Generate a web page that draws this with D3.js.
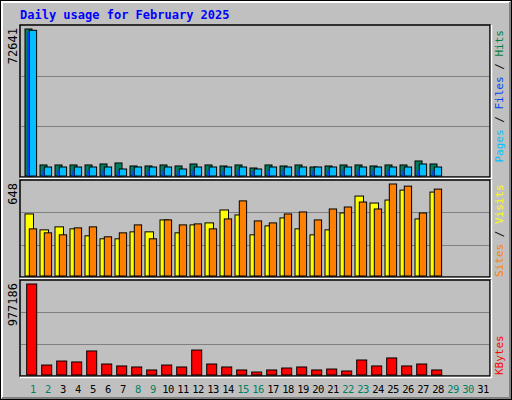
<!DOCTYPE html>
<html><head><meta charset="utf-8">
<script src="https://cdn.jsdelivr.net/npm/d3@7"></script>
<style>body{margin:0;background:#fff}svg{display:block}</style>
</head><body>
<svg id="chart" width="512" height="400"></svg>
<script>
// values, days 1..28 (29..31 empty)
const days = d3.range(1, 32);
const weekend = [1, 2, 8, 9, 15, 16, 22, 23, 29, 30];
const hits   = [72641,5450,5450,5450,5450,5940,6435,4950,4950,5450,4950,5940,5450,4950,5450,3960,5450,4950,5450,4450,4950,5450,5450,4950,5450,5450,7425,5940];
const files  = [72000,4450,4450,4450,4450,4450,3465,4450,4450,4450,3465,4450,4450,4450,4450,3465,4450,4450,4450,4450,4450,4450,4450,4450,4450,4450,5940,4450];
const pages  = [71000,2800,2800,2800,2800,2800,2500,2800,2500,2800,2500,2800,2800,2500,2800,2500,2800,2800,2800,2800,2800,2800,2800,2800,2800,2800,3000,2800];
const visits = [437,325,346,332,283,262,262,311,311,395,304,360,374,465,430,290,353,409,332,290,325,444,563,514,535,605,402,591];
const sites  = [332,304,290,339,346,276,304,360,262,395,360,367,332,402,529,388,374,437,451,395,472,486,521,472,648,633,444,612];
const kbytes = [977186,107000,150000,140000,258000,118000,97000,86000,54000,107000,86000,268000,118000,86000,54000,32000,54000,75000,86000,54000,64000,43000,161000,97000,183000,97000,118000,54000];

const svg = d3.select("#chart");
const font = "'DejaVu Sans Mono', monospace";

// frame
svg.append("rect").attr("x",0.5).attr("y",0.5).attr("width",511).attr("height",399).attr("fill","#c0c0c0").attr("stroke","#000");
svg.append("path").attr("d","M2,398 V2 H510").attr("stroke","#fff").attr("stroke-width",2).attr("fill","none");
svg.append("path").attr("d","M2,398 H510 V2").attr("stroke","#808080").attr("stroke-width",2).attr("fill","none");

svg.append("text").attr("x",20).attr("y",19).attr("fill","#0000ff")
  .style("font","bold 12px " + font).text("Daily usage for February 2025");

const x = d3.scaleBand().domain(days).range([25, 490]).paddingInner(0);

const panels = [
  {top: 25, bottom: 177, max: 72641, lab: {y: 30, anchor: "end"}, label: [["Pages","#00c0ff"],[" / ","#000"],["Files","#0040ff"],[" / ","#000"],["Hits","#008040"]],
   series: [{v: hits, c: "#008060", dx: 0, w: 7}, {v: files, c: "#00c0ff", dx: 4.3, w: 7.3}, {v: pages, c: "#0040ff", dx: 2.3, w: 2, nostroke: true}]},
  {top: 180, bottom: 277, max: 648, lab: {y: 277, anchor: "start"}, label: [["Sites","#ff8000"],[" / ","#000"],["Visits","#ffff00"]],
   series: [{v: visits, c: "#ffff00", dx: 0, w: 8.5}, {v: sites, c: "#ff8000", dx: 4.3, w: 7.3}]},
  {top: 280, bottom: 376, max: 977186, lab: {y: 375, anchor: "start"}, label: [["KBytes","#ff0000"]],
   series: [{v: kbytes, c: "#ff0000", dx: 1.7, w: 10}]}
];

panels.forEach(p => {
  const y = d3.scaleLinear().domain([0, p.max]).range([p.bottom - 1, p.top + 4]);
  const g = svg.append("g");
  g.append("rect").attr("x",20).attr("y",p.top).attr("width",470).attr("height",p.bottom - p.top)
    .attr("fill","#c0c0c0").attr("stroke","#000").attr("stroke-width",1.5);
  g.append("path").attr("d",`M20,${p.bottom+1.5} H491.5 V${p.top}`).attr("stroke","#fff").attr("stroke-width",1.5).attr("fill","none");
  const h = p.bottom - p.top;
  [1/3, 2/3].forEach(f => g.append("line").attr("x1",21).attr("x2",489)
    .attr("y1",Math.round(p.top + h*f)+0.5).attr("y2",Math.round(p.top + h*f)+0.5).attr("stroke","#808080"));
  p.series.forEach(s => {
    g.selectAll(null).data(s.v).join("rect")
      .attr("x",(d,i) => x(i+1) + s.dx).attr("width",s.w)
      .attr("y",d => y(d)).attr("height",d => y(0) - y(d))
      .attr("fill",s.c).attr("stroke",s.nostroke ? "none" : "#000");
  });
  // max value label
  g.append("text").attr("transform",`translate(17,${p.top+3}) rotate(-90)`).attr("text-anchor","end")
    .style("font","12px " + font).attr("fill","#000").text(p.max);
  // right legend
  const t = g.append("text").attr("transform",`translate(503,${p.lab.y}) rotate(-90)`)
    .attr("text-anchor",p.lab.anchor).style("font","11px " + font);
  p.label.forEach(([s,c]) => t.append("tspan").attr("fill",c).text(s));
});

svg.selectAll(".day").data(days).join("text")
  .attr("x",d => x(d) + 8).attr("y",393).attr("text-anchor","middle")
  .style("font","10.5px " + font).attr("letter-spacing","-0.5")
  .attr("fill",d => weekend.includes(d) ? "#008060" : "#000").text(d => d);
</script>
</body></html>
